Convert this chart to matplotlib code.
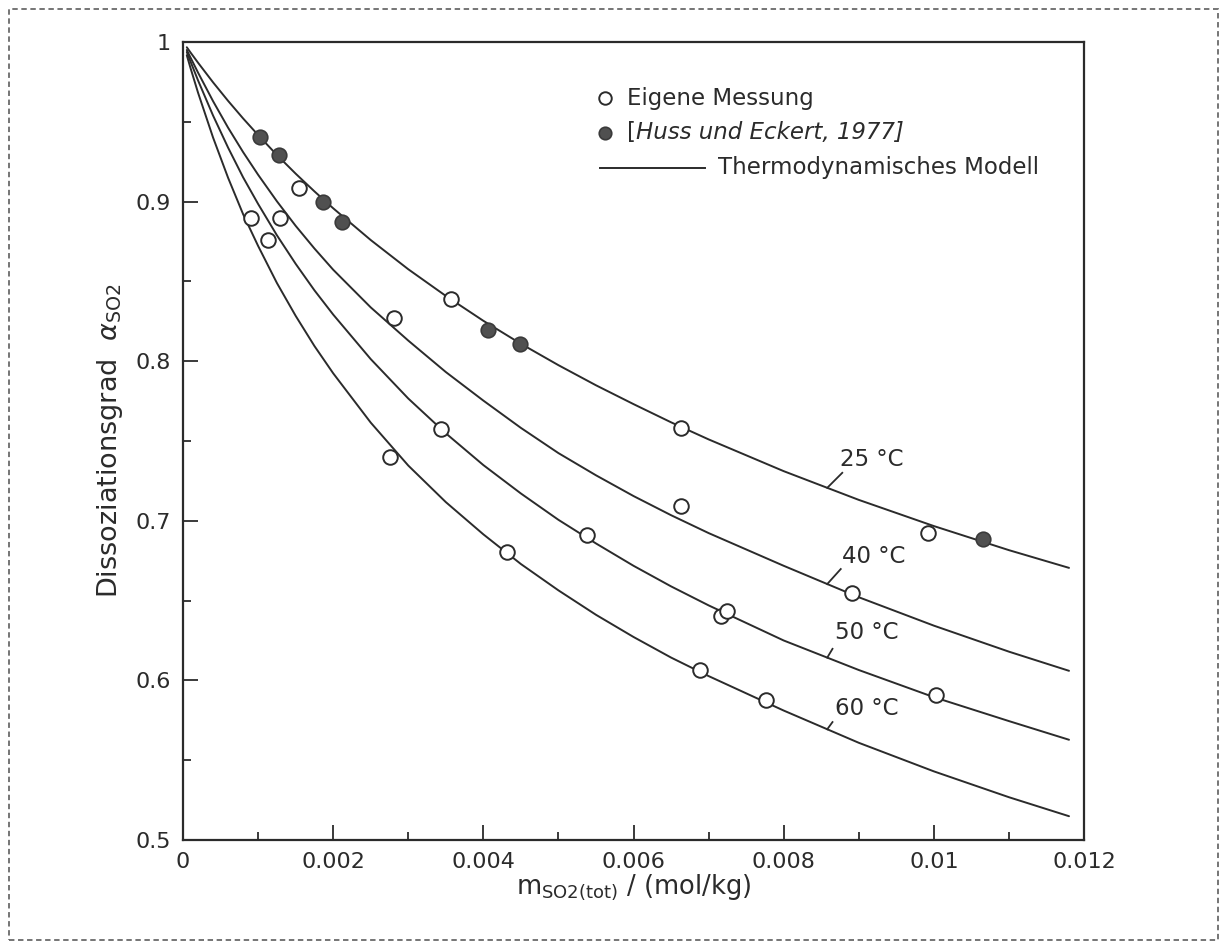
import matplotlib
matplotlib.use("Agg")
import matplotlib.pyplot as plt
from matplotlib.patches import Rectangle
import numpy as np

plt.rcParams['font.family'] = ['DejaVu Sans']
plt.rcParams['mathtext.fontset'] = 'dejavusans'

# ---- data ----
# model curves (Thermodynamisches Modell): m_SO2(tot) in mol/kg
m_model = [0.00005, 0.0001, 0.0002, 0.0004, 0.0006, 0.0008, 0.001, 0.00125, 0.0015,
           0.00175, 0.002, 0.0025, 0.003, 0.0035, 0.004, 0.0045, 0.005, 0.0055,
           0.006, 0.0065, 0.007, 0.008, 0.009, 0.010, 0.011, 0.0118]
alpha_25 = [0.9967, 0.9934, 0.9870, 0.9747, 0.9631, 0.9521, 0.9417, 0.9292, 0.9175,
            0.9064, 0.8958, 0.8759, 0.8576, 0.8409, 0.8253, 0.8109, 0.7975, 0.7849,
            0.7731, 0.7617, 0.7510, 0.7311, 0.7131, 0.6967, 0.6816, 0.6705]
alpha_40 = [0.9950, 0.9902, 0.9808, 0.9629, 0.9463, 0.9310, 0.9168, 0.9002, 0.8848,
            0.8706, 0.8573, 0.8337, 0.8129, 0.7932, 0.7753, 0.7582, 0.7424, 0.7285,
            0.7155, 0.7035, 0.6923, 0.6718, 0.6521, 0.6343, 0.6180, 0.6060]
alpha_50 = [0.9937, 0.9877, 0.9759, 0.9539, 0.9338, 0.9152, 0.8985, 0.8789, 0.8610,
            0.8444, 0.8292, 0.8013, 0.7766, 0.7548, 0.7349, 0.7171, 0.7006, 0.6858,
            0.6718, 0.6589, 0.6470, 0.6250, 0.6065, 0.5895, 0.5745, 0.5628]
alpha_60 = [0.9917, 0.9836, 0.9682, 0.9401, 0.9149, 0.8921, 0.8722, 0.8490, 0.8284,
            0.8095, 0.7924, 0.7615, 0.7346, 0.7117, 0.6915, 0.6729, 0.6564, 0.6411,
            0.6272, 0.6143, 0.6027, 0.5811, 0.5609, 0.5430, 0.5268, 0.5149]
curve_labels = ['25 °C', '40 °C', '50 °C', '60 °C']

# Eigene Messung (open circles)
own_m = [0.00091, 0.00113, 0.00129, 0.00155, 0.00276, 0.00281, 0.00357, 0.00344,
         0.00432, 0.00538, 0.00663, 0.00663, 0.00689, 0.00716, 0.00724, 0.00776,
         0.00891, 0.00992, 0.01003]
own_alpha = [0.8895, 0.8760, 0.8895, 0.9083, 0.7400, 0.8270, 0.8388, 0.7573,
             0.6806, 0.6911, 0.7093, 0.7580, 0.6065, 0.6404, 0.6435, 0.5877,
             0.6546, 0.6926, 0.5909]

# Huss und Eckert, 1977 (filled circles)
lit_m = [0.00102, 0.00128, 0.00186, 0.00212, 0.00406, 0.00449, 0.01066]
lit_alpha = [0.9407, 0.9292, 0.8996, 0.8874, 0.8195, 0.8106, 0.6884]

x_ticks = [0, 0.002, 0.004, 0.006, 0.008, 0.010, 0.012]
x_ticklabels = ['0', '0.002', '0.004', '0.006', '0.008', '0.01', '0.012']
y_ticks = [0.5, 0.6, 0.7, 0.8, 0.9, 1.0]
y_ticklabels = ['0.5', '0.6', '0.7', '0.8', '0.9', '1']

# ---- figure ----
fig = plt.figure(figsize=(12.26, 9.5), dpi=100)
fig.patch.set_facecolor('white')
ax = fig.add_axes([0.1493, 0.1158, 0.7349, 0.8400])

ink = '#2b2b2b'
curves = [alpha_25, alpha_40, alpha_50, alpha_60]
for a in curves:
    ax.plot(m_model, a, color=ink, lw=1.4, solid_capstyle='round',
            solid_joinstyle='round', zorder=2)

ax.plot(own_m, own_alpha, linestyle='none', marker='o', ms=10.5, mfc='white',
        mec=ink, mew=1.4, zorder=3)
ax.plot(lit_m, lit_alpha, linestyle='none', marker='o', ms=10.5, mfc='#505050',
        mec='#3a3a3a', mew=1.2, zorder=3)

# curve labels with short leader lines
label_m = 0.00858
text_offsets = [(0.00017, 0.0180), (0.00020, 0.0172), (0.00010, 0.0155), (0.00010, 0.0130)]
lead_ends = [(0.00020, 0.0094), (0.00018, 0.0094), (0.00007, 0.0055), (0.00007, 0.0045)]
for a, lab, (dx, dy), (lx, ly) in zip(curves, curve_labels, text_offsets, lead_ends):
    ya = np.interp(label_m, m_model, a)
    ax.plot([label_m, label_m + lx], [ya, ya + ly], color=ink, lw=1.3, zorder=2)
    ax.text(label_m + dx, ya + dy, lab, fontsize=16.5, color=ink, ha='left', va='center')

ax.set_xlim(0, 0.012)
ax.set_ylim(0.5, 1.0)
ax.set_xticks(x_ticks)
ax.set_xticklabels(x_ticklabels)
ax.set_yticks(y_ticks)
ax.set_yticklabels(y_ticklabels)
ax.set_xticks(np.arange(0.001, 0.012, 0.002), minor=True)
ax.set_yticks([0.55, 0.65, 0.75, 0.85, 0.95], minor=True)
ax.tick_params(which='both', direction='in', top=False, right=False, colors=ink,
               labelsize=16, width=1.3)
ax.tick_params(which='major', length=11, pad=9)
ax.tick_params(which='minor', length=6)
for s in ax.spines.values():
    s.set_linewidth(1.6)
    s.set_color(ink)

ax.set_xlabel(r'm$_{\mathrm{SO2(tot)}}$ / (mol/kg)', fontsize=18.5, color=ink, labelpad=0)
ax.set_ylabel(r'Dissoziationsgrad  $\alpha_{\mathrm{SO2}}$', fontsize=19.5, color=ink,
              labelpad=7)

# legend (drawn manually in axes coordinates)
ax.plot([0.4684], [0.9298], transform=ax.transAxes, marker='o', ms=9, mfc='white',
        mec=ink, mew=1.4, linestyle='none', clip_on=False)
ax.text(0.4928, 0.9298, 'Eigene Messung', transform=ax.transAxes, fontsize=16.5,
        color=ink, va='center', ha='left')
ax.plot([0.4684], [0.8860], transform=ax.transAxes, marker='o', ms=9, mfc='#505050',
        mec='#3a3a3a', mew=1.2, linestyle='none', clip_on=False)
ax.text(0.4928, 0.8860, '[', transform=ax.transAxes, fontsize=16.5, color=ink,
        va='center', ha='left')
ax.text(0.5030, 0.8860, 'Huss und Eckert, 1977]', transform=ax.transAxes, fontsize=16.5,
        color=ink, va='center', ha='left', style='italic')
ax.plot([0.4628, 0.5794], [0.8421, 0.8421], transform=ax.transAxes, color=ink, lw=1.4)
ax.text(0.5938, 0.8421, 'Thermodynamisches Modell', transform=ax.transAxes, fontsize=16.5,
        color=ink, va='center', ha='left')

# dashed frame around the whole figure
fig.add_artist(Rectangle((0.0073, 0.0105), 0.9862, 0.9800, transform=fig.transFigure,
                         fill=False, linestyle=(0, (3, 2)), lw=1.3, edgecolor='#6a6a6a'))

fig.savefig('out.png', dpi=100, facecolor='white')
